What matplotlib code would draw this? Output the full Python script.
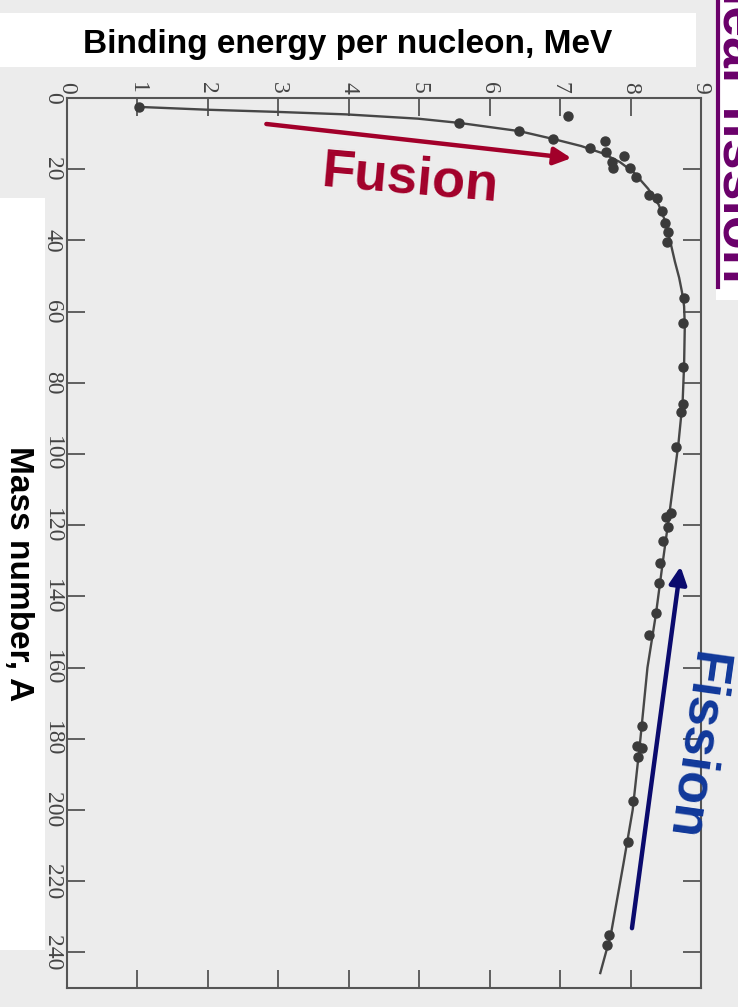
import numpy as np
import matplotlib
matplotlib.use("Agg")
import matplotlib.pyplot as plt
from matplotlib.patches import Rectangle
from matplotlib.lines import Line2D

# measured points: binding energy per nucleon (MeV) vs mass number A
be_points = [1.02, 5.57, 6.42, 6.90, 7.11, 7.64, 7.42, 7.65, 7.91, 7.74, 7.75, 7.99,
             8.08, 8.26, 8.38, 8.45, 8.49, 8.53, 8.52, 8.76, 8.74, 8.74, 8.74, 8.72,
             8.65, 8.50, 8.57, 8.53, 8.46, 8.42, 8.40, 8.36, 8.26, 8.16, 8.09, 8.16,
             8.11, 8.04, 7.96, 7.69, 7.67]
a_points = [2.5, 7.0, 9.3, 11.5, 5.0, 12.1, 14.0, 15.2, 16.3, 18.0, 19.7, 19.7,
            22.2, 27.2, 28.1, 31.7, 35.1, 37.6, 40.4, 56.2, 63.2, 75.6, 86.0, 88.2,
            98.0, 117.7, 116.6, 120.5, 124.4, 130.6, 136.2, 144.7, 150.8, 176.4, 182.0, 182.6,
            185.1, 197.5, 209.0, 235.1, 238.0]

# hand drawn curve through the points
be_curve = [1.02, 2.0, 2.98, 3.96, 4.98, 5.57, 6.42, 6.90, 7.30, 7.60, 7.85, 8.05,
            8.25, 8.40, 8.50, 8.56, 8.63, 8.69, 8.73, 8.76, 8.77, 8.76, 8.74, 8.68, 8.55,
            8.46, 8.36, 8.24, 8.14, 8.03, 7.90, 7.72, 7.57]
a_curve = [2.5, 3.3, 3.9, 4.6, 5.8, 7.0, 9.3, 11.5, 13.5, 15.5, 18.0, 21.0,
           25.5, 30.0, 35.0, 40.0, 46.0, 50.5, 54.5, 58.5, 64.0, 75.0, 85.0, 97.0, 117.0,
           130.0, 145.0, 160.0, 180.0, 200.0, 215.0, 235.0, 245.8]

be_ticks = list(range(0, 10))
a_ticks = list(range(0, 241, 20))

# arrows: (BE, A) tail -> tip
fusion_tail, fusion_tip = (2.83, 7.3), (7.16, 16.9)
fission_tail, fission_tip = (8.02, 233.2), (8.71, 131.6)

W, H = 738, 1007
fig = plt.figure(figsize=(W / 100, H / 100), dpi=100)
fig.patch.set_facecolor("#ececec")

# white pieces of the slide over the scan
for x0, y0, w, h in [(0, 13, 696, 54), (0, 198, 45, 752), (716, 0, 22, 300)]:
    fig.patches.append(Rectangle((x0 / W, 1 - (y0 + h) / H), w / W, h / H,
                                 transform=fig.transFigure, facecolor="white",
                                 edgecolor="none", zorder=0))

left, right, top, bottom = 67, 701, 98, 988
ax = fig.add_axes([left / W, 1 - bottom / H, (right - left) / W, (bottom - top) / H])
ax.set_facecolor("none")

ax.plot(be_curve, a_curve, color="#474747", lw=1.7, zorder=2)
ax.plot(be_points, a_points, "o", color="#3a3a3a", ms=6.5, zorder=3)

ax.set_xlim(0, 9)
ax.set_ylim(250, 0)

ax.set_xticks(be_ticks)
ax.set_xticklabels([str(t) for t in be_ticks], rotation=-90, ha="center",
                   family="Liberation Serif", fontsize=17, color="#444444")
ax.set_yticks(a_ticks)
ax.set_yticklabels([str(t) for t in a_ticks], rotation=-90, va="center",
                   family="Liberation Serif", fontsize=17, color="#444444")
ax.tick_params(axis="both", direction="in", length=13, width=1.3, color="#555555",
               top=True, bottom=True, left=True, right=True,
               labeltop=True, labelbottom=False, pad=3)
for s in ax.spines.values():
    s.set_color("#555555")
    s.set_linewidth(1.5)

# fusion / fission arrows and labels
ax.annotate("", xy=fusion_tip, xytext=fusion_tail,
            arrowprops=dict(arrowstyle="-|>", lw=3.2, color="#a2002a",
                            mutation_scale=26, shrinkA=0, shrinkB=0), zorder=5)
ax.text(4.87, 22.8, "Fusion", color="#a2002a", fontsize=39, weight="bold",
        family="Liberation Sans", rotation=-5, rotation_mode="anchor",
        ha="center", va="center", zorder=5)

ax.annotate("", xy=fission_tip, xytext=fission_tail,
            arrowprops=dict(arrowstyle="-|>", lw=3.2, color="#0b0b6e",
                            mutation_scale=26, shrinkA=0, shrinkB=0),
            annotation_clip=False, zorder=5)
ax.text(8.91, 182, "Fission", color="#10389a", fontsize=39, weight="bold",
        family="Liberation Sans", rotation=-98, rotation_mode="anchor",
        ha="center", va="center", zorder=5, clip_on=False)

# titles
fig.text(348 / W, 1 - 44 / H, "Binding energy per nucleon, MeV", fontsize=24,
         weight="bold", family="Liberation Sans", ha="center", va="center")
fig.text(18 / W, 1 - 574 / H, "Mass number, A", fontsize=24, weight="bold",
         family="Liberation Sans", rotation=-90, ha="center", va="center")

# slide heading cut off at the right edge
fig.text(723 / W, 1 - 283 / H, "Nuclear fission", fontsize=40, weight="bold",
         family="Liberation Sans", color="#6a006a", rotation=-90,
         rotation_mode="anchor", ha="right", va="baseline")
fig.lines.append(Line2D([718 / W, 718 / W], [1 - 287 / H, 1.0], transform=fig.transFigure,
                        color="#6a006a", lw=3))

fig.savefig("out.png", dpi=100, facecolor=fig.get_facecolor())
